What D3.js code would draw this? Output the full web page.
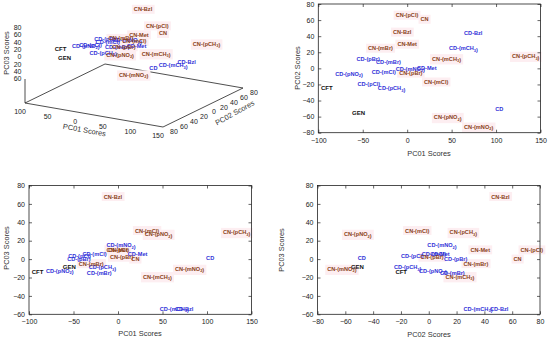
<!DOCTYPE html>
<html>
<head>
<meta charset="utf-8">
<script src="https://cdn.jsdelivr.net/npm/d3@7"></script>
<style>
  body { margin: 0; background: #fff; }
  svg { display: block; font-family: "Liberation Sans", Arial, sans-serif; }
  .tick text { font-size: 7px; fill: #222; }
  .tick line { stroke: #222; stroke-width: 0.7; }
  .title { font-size: 7.4px; fill: #333; }
  .lab { font-size: 5.6px; font-weight: bold; }
</style>
</head>
<body>
<svg id="chart" width="550" height="339"></svg>
<script>
// compound names, groups and the three PCA scores (label anchor = left edge of text)
var names = ["CFT", "GEN", "CD", "CD-Bzl", "CD-(mCH3)", "CD-(pCH3)", "CD-(pBr)", "CD-(mBr)",
  "CD-(pCl)", "CD-(mCl)", "CD-(pNO2)", "CD-(mNO2)", "CD-Met",
  "CN", "CN-Bzl", "CN-(pCl)", "CN-(mCl)", "CN-(pBr)", "CN-(mBr)", "CN-Met",
  "CN-(pCH3)", "CN-(mCH3)", "CN-(pNO2)", "CN-(mNO2)"];
var groups = ["ref", "ref", "CD", "CD", "CD", "CD", "CD", "CD", "CD", "CD", "CD", "CD", "CD",
  "CN", "CN", "CN", "CN", "CN", "CN", "CN", "CN", "CN", "CN", "CN"];
var pc01 = [-97, -62, 99, 64, 47, -33, -57, -35, -56, -40, -81, -13, 11,
  15, -16, -13, 19, -9, -44, -11, 118, 28, 30, 64];
var pc02 = [-24, -56, -51, 44, 25, -25, 11, 8, -20, -5, -7, -1, 1,
  61, 45, 66, -17, -6, 25, 30, 15, 12, -61, -73];
var pc03 = [-14, -9, 1, -54, -54, -9, 0, -15, 3, 6, -13, 15, 5,
  0, 68, 10, 31, 2, -5, 10, 29, -19, 27, -11];

var ticks01 = [-100, -50, 0, 50, 100, 150];
var ticks02 = [-80, -60, -40, -20, 0, 20, 40, 60, 80];
var ticks03 = [-60, -40, -20, 0, 20, 40, 60, 80];

var colors = { ref: "#111", CD: "#2f2fd8", CN: "#8a3f17" };

var svg = d3.select("#chart");

// writes "CH3" / "NO2" with subscript digits
function labelText(sel, name) {
  var parts = name.split(/(CH3|NO2)/);
  parts.forEach(function(p) {
    if (p == "CH3" || p == "NO2") {
      sel.append("tspan").text(p.slice(0, 2));
      sel.append("tspan").attr("font-size", "4px").attr("dy", "1.3").text(p.slice(2));
      sel.append("tspan").attr("dy", "-1.3").text("");
    } else if (p) {
      sel.append("tspan").text(p);
    }
  });
}

function drawLabels(g, px, py) {
  var bg = g.append("g");
  var fg = g.append("g");
  names.forEach(function(n, i) {
    var t = fg.append("text").attr("class", "lab")
      .attr("x", px(i)).attr("y", py(i)).attr("dy", "0.35em")
      .attr("fill", colors[groups[i]]);
    if (groups[i] == "ref") t.style("font-size", "6px");
    labelText(t, n);
    if (groups[i] == "CN") {
      var bb = t.node().getBBox();
      bg.append("rect")
        .attr("x", bb.x - 2).attr("y", bb.y - 1.5)
        .attr("width", bb.width + 4).attr("height", bb.height + 3)
        .attr("fill", "#fdeef1");
    }
  });
}

// 2D panels
function panel(box, xd, yd, xt, yt, xv, yv, xTitle, yTitle, titlePos) {
  var x = d3.scaleLinear().domain(xd).range([box.l, box.r]);
  var y = d3.scaleLinear().domain(yd).range([box.b, box.t]);
  var g = svg.append("g");

  drawLabels(g, function(i) { return x(xv[i]); }, function(i) { return y(yv[i]); });

  g.append("g").attr("transform", "translate(0," + box.b + ")")
    .call(d3.axisBottom(x).tickValues(xt).tickSize(-3).tickPadding(5))
    .call(function(a) { a.select(".domain").remove(); });
  g.append("g").attr("transform", "translate(0," + box.t + ")")
    .call(d3.axisTop(x).tickValues(xt).tickSize(-3).tickFormat(""))
    .call(function(a) { a.select(".domain").remove(); });
  g.append("g").attr("transform", "translate(" + box.l + ",0)")
    .call(d3.axisLeft(y).tickValues(yt).tickSize(-3).tickPadding(4))
    .call(function(a) { a.select(".domain").remove(); });
  g.append("g").attr("transform", "translate(" + box.r + ",0)")
    .call(d3.axisRight(y).tickValues(yt).tickSize(-3).tickFormat(""))
    .call(function(a) { a.select(".domain").remove(); });
  g.selectAll(".tick text").attr("font-family", null).attr("font-size", null);

  g.append("rect").attr("x", box.l).attr("y", box.t)
    .attr("width", box.r - box.l).attr("height", box.b - box.t)
    .attr("fill", "none").attr("stroke", "#222").attr("stroke-width", 0.8);

  g.append("text").attr("class", "title").attr("text-anchor", "middle")
    .attr("x", titlePos.xx).attr("y", titlePos.xy).text(xTitle);
  g.append("text").attr("class", "title").attr("text-anchor", "middle")
    .attr("transform", "translate(" + titlePos.yx + "," + titlePos.yy + ") rotate(-90)")
    .text(yTitle);
}

panel({ l: 318.3, r: 540.5, t: 4, b: 132.7 }, [-100, 150], [-80, 80], ticks01, ticks02,
  pc01, pc02, "PC01 Scores", "PC02 Scores", { xx: 429, xy: 155.5, yx: 299.5, yy: 68 });
panel({ l: 29, r: 251.5, t: 185.5, b: 314.3 }, [-100, 150], [-60, 80], ticks01, ticks03,
  pc01, pc03, "PC01 Scores", "PC03 Scores", { xx: 140, xy: 336, yx: 8.8, yy: 248 });
panel({ l: 317.5, r: 540, t: 185.5, b: 314.3 }, [-80, 80], [-60, 80], ticks02, ticks03,
  pc02, pc03, "PC02 Scores", "PC03 Scores", { xx: 429, xy: 337, yx: 284, yy: 250 });

// 3D panel: oblique projection of the three score axes
var A = [25, 103], B = [163, 127], C = [243, 88];
var s1 = d3.scaleLinear().domain([-100, 150]).range([0, 1]);
var s2 = d3.scaleLinear().domain([-80, 80]).range([0, 1]);
var s3 = d3.scaleLinear().domain([-60, 80]).range([79, 27.3]);
function proj(a, b, zy) {
  var u = s1(a), v = s2(b);
  return [A[0] + u * (B[0] - A[0]) + v * (C[0] - B[0]),
          zy + u * (B[1] - A[1]) + v * (C[1] - B[1])];
}
var g3 = svg.append("g");
var D = proj(-100, 80, A[1]), Bp = proj(150, -80, A[1]), Cp = proj(150, 80, A[1]);
g3.append("path")
  .attr("d", d3.line()([A, Bp, Cp, D, A]))
  .attr("fill", "none").attr("stroke", "#222").attr("stroke-width", 0.8);
g3.append("line").attr("x1", A[0]).attr("x2", A[0]).attr("y1", A[1]).attr("y2", s3(-60))
  .attr("stroke", "#222").attr("stroke-width", 0.8);

ticks03.forEach(function(v) {
  g3.append("text").attr("x", 21.5).attr("y", s3(v)).attr("dy", "0.35em")
    .attr("text-anchor", "end").style("font-size", "7px").attr("fill", "#222").text(Math.abs(v));
});
ticks01.forEach(function(v) {
  var p = proj(v, -80, A[1]);
  g3.append("text").attr("x", p[0] - 5).attr("y", p[1] + 9).attr("dy", "0.35em")
    .attr("text-anchor", "middle").style("font-size", "7px").attr("fill", "#222").text(Math.abs(v));
});
ticks02.forEach(function(v) {
  var p = proj(150, v, A[1]);
  g3.append("text").attr("x", p[0] + 11).attr("y", p[1] + 4.5).attr("dy", "0.35em")
    .attr("text-anchor", "middle").style("font-size", "7px").attr("fill", "#222").text(Math.abs(v));
});
g3.append("text").attr("class", "title").attr("text-anchor", "middle")
  .attr("transform", "translate(84,132.5) rotate(10)").text("PC01 Scores");
g3.append("text").attr("class", "title").attr("text-anchor", "middle")
  .attr("transform", "translate(236,115) rotate(-29)").text("PC02 Scores");
g3.append("text").attr("class", "title").attr("text-anchor", "middle")
  .attr("transform", "translate(8.5,53) rotate(-90)").text("PC03 Scores");

drawLabels(g3,
  function(i) { return proj(pc01[i], pc02[i], s3(pc03[i]))[0]; },
  function(i) { return proj(pc01[i], pc02[i], s3(pc03[i]))[1]; });
</script>
</body>
</html>
